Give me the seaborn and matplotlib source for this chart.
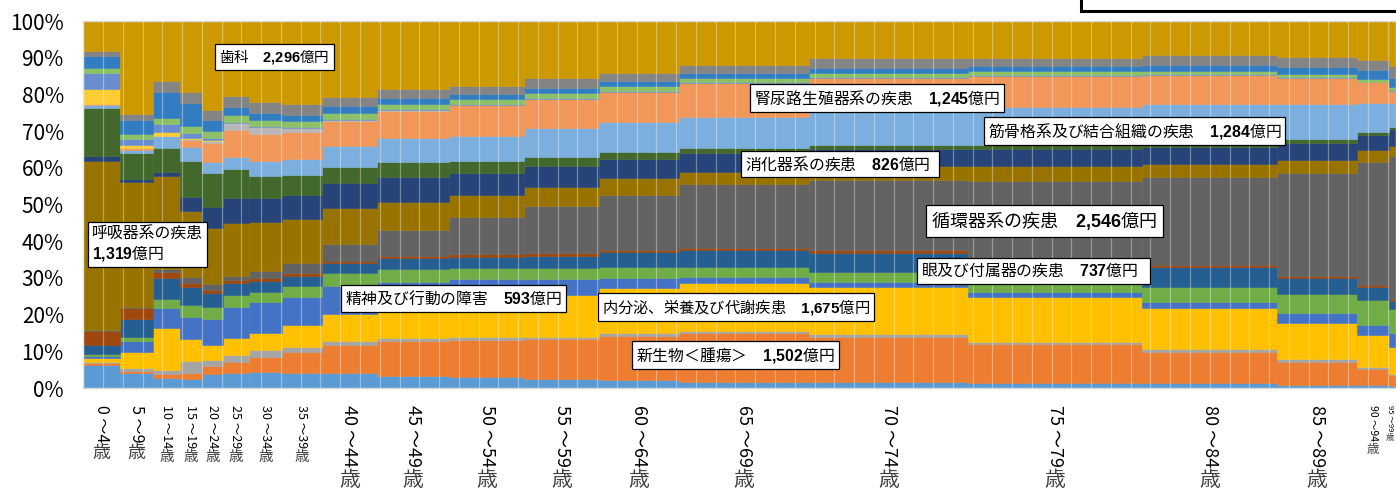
"""
Medical cost by disease chapter and age group (Marimekko style).
Bar width = total cost of the age group (億円), height = share of each chapter.
"""

import matplotlib
matplotlib.use("Agg")
import matplotlib.pyplot as plt
import matplotlib.transforms as mtransforms
from matplotlib.patches import Rectangle
from matplotlib.ticker import MultipleLocator
import numpy as np
import seaborn as sns

# ── Data ──────────────────────────────────────────────────────────────────────

AGE_LABELS = ["0 ～4", "5 ～9", "10 ～14", "15 ～19", "20 ～24", "25 ～29",
              "30 ～34", "35 ～39", "40 ～44", "45 ～49", "50 ～54", "55 ～59",
              "60 ～64", "65 ～69", "70 ～74", "75 ～79", "80 ～84", "85 ～89",
              "90 ～94", "95 ～99"]

# total cost per age group (億円) -> bar widths
COST_OKU = [464, 417, 342, 278, 266, 329, 417, 506, 696, 911,
            949, 949, 1012, 1645, 2011, 2201, 1708, 1012, 405, 170]

# share of each disease chapter within an age group (%), bottom -> top
INFECT    = [6.3, 4.0, 2.8, 2.5, 3.7, 4.0, 4.3, 4.0, 4.0, 3.4, 2.9, 2.5, 2.2, 1.7, 1.7, 1.4, 1.4, 0.8, 0.8, 0.5]
NEOPLASM  = [0.6, 0.6, 0.9, 1.5, 2.4, 3.2, 4.1, 5.7, 7.7, 9.4, 10.2, 10.8, 12.1, 13.2, 12.3, 10.7, 8.5, 6.4, 4.5, 3.0]
BLOOD     = [0.2, 0.9, 1.2, 3.4, 1.5, 1.8, 2.0, 1.6, 1.2, 0.9, 0.9, 0.7, 0.6, 0.6, 0.6, 0.5, 0.6, 0.6, 0.5, 0.3]
ENDOCRINE = [1.2, 4.2, 11.4, 6.0, 4.1, 4.5, 4.5, 5.9, 7.2, 9.7, 11.5, 11.3, 12.4, 13.0, 12.8, 12.1, 11.2, 10.0, 8.6, 7.3]
MENTAL    = [0.5, 3.1, 5.6, 5.9, 7.0, 8.7, 8.4, 7.7, 7.8, 5.6, 4.1, 4.3, 2.6, 1.8, 1.6, 1.5, 1.8, 2.6, 2.8, 3.8]
NERVE     = [0.6, 1.2, 2.4, 3.3, 3.5, 3.1, 2.9, 3.0, 3.3, 3.4, 3.0, 3.0, 3.0, 2.6, 2.5, 2.7, 4.1, 5.1, 6.8, 6.7]
EYE       = [2.3, 4.8, 5.6, 5.0, 3.6, 3.2, 3.0, 2.6, 2.8, 2.9, 3.2, 3.5, 4.1, 4.6, 5.4, 6.0, 5.4, 4.4, 3.5, 2.2]
EAR       = [3.9, 3.1, 1.6, 0.9, 0.9, 0.9, 0.9, 0.9, 0.7, 0.7, 0.6, 0.6, 0.6, 0.6, 0.6, 0.7, 0.5, 0.6, 0.6, 0.5]
CIRC      = [0.2, 0.2, 0.9, 1.7, 1.6, 1.2, 1.7, 2.6, 4.5, 7.1, 10.3, 13.0, 15.0, 17.4, 19.3, 20.8, 23.9, 28.2, 33.6, 38.8]
RESP      = [46.1, 34.1, 25.4, 18.1, 15.4, 14.3, 13.4, 12.0, 9.8, 7.6, 5.9, 5.2, 4.5, 3.4, 3.6, 4.1, 3.6, 3.4, 3.2, 2.9]
DIGEST    = [1.4, 0.7, 1.1, 3.7, 5.5, 7.0, 6.6, 6.6, 6.8, 6.8, 6.1, 5.7, 5.2, 5.2, 4.6, 4.5, 4.6, 4.6, 4.0, 4.6]
SKIN      = [13.0, 7.0, 6.6, 9.9, 9.5, 7.8, 6.1, 5.4, 4.5, 4.1, 3.2, 2.4, 2.1, 1.4, 1.3, 1.1, 1.1, 1.1, 0.9, 0.6]
MUSCULO   = [0.7, 1.0, 3.2, 3.7, 2.8, 3.3, 3.9, 4.4, 5.6, 6.4, 6.8, 7.8, 8.0, 8.4, 9.1, 10.6, 10.7, 9.6, 7.9, 6.5]
GENITO    = [0.4, 0.5, 0.0, 2.0, 5.2, 7.3, 7.5, 7.3, 6.9, 7.6, 8.4, 7.9, 8.3, 9.1, 9.1, 8.3, 7.8, 7.0, 5.6, 3.3]
PREG      = [0.0, 0.0, 0.0, 0.2, 0.7, 1.8, 1.8, 1.1, 0.3, 0.1, 0.1, 0.0, 0.0, 0.0, 0.0, 0.0, 0.0, 0.0, 0.0, 0.0]
PERINATAL = [4.1, 0.7, 1.0, 0.2, 0.1, 0.1, 0.1, 0.1, 0.0, 0.0, 0.0, 0.0, 0.0, 0.0, 0.0, 0.0, 0.0, 0.0, 0.0, 0.0]
CONGEN    = [4.2, 1.8, 2.2, 1.6, 0.7, 0.3, 0.3, 0.2, 0.2, 0.2, 0.2, 0.2, 0.3, 0.3, 0.2, 0.3, 0.4, 0.3, 0.1, 0.1]
SYMPTOM   = [1.6, 1.4, 1.6, 1.8, 1.8, 2.0, 1.5, 1.6, 1.7, 1.6, 1.3, 1.4, 1.4, 1.2, 1.2, 1.1, 0.9, 0.9, 0.9, 1.0]
INJURY    = [3.2, 3.8, 7.2, 6.3, 3.0, 2.0, 1.9, 1.8, 1.8, 1.5, 1.4, 1.4, 1.3, 1.2, 1.2, 1.3, 1.5, 1.9, 2.3, 2.5]
OTHER     = [1.4, 1.6, 3.0, 3.0, 2.8, 3.0, 3.1, 2.9, 2.4, 2.6, 2.3, 2.7, 2.2, 2.4, 2.7, 2.2, 2.7, 2.8, 2.9, 3.1]
DENTAL    = [8.1, 25.3, 16.3, 19.3, 24.2, 20.5, 22.0, 22.6, 20.8, 18.4, 17.6, 15.6, 14.1, 11.9, 10.2, 10.1, 9.3, 9.7, 10.5, 12.3]

CATEGORIES = ["感染症及び寄生虫症", "新生物＜腫瘍＞", "血液及び造血器の疾患", "内分泌、栄養及び代謝疾患",
              "精神及び行動の障害", "神経系の疾患", "眼及び付属器の疾患", "耳及び乳様突起の疾患",
              "循環器系の疾患", "呼吸器系の疾患", "消化器系の疾患", "皮膚及び皮下組織の疾患",
              "筋骨格系及び結合組織の疾患", "腎尿路生殖器系の疾患", "妊娠、分娩及び産じょく",
              "周産期に発生した病態", "先天奇形、変形及び染色体異常", "症状、徴候及び異常臨床所見",
              "損傷、中毒及びその他の外因の影響", "その他", "歯科"]
SERIES = [INFECT, NEOPLASM, BLOOD, ENDOCRINE, MENTAL, NERVE, EYE, EAR, CIRC, RESP,
          DIGEST, SKIN, MUSCULO, GENITO, PREG, PERINATAL, CONGEN, SYMPTOM, INJURY, OTHER, DENTAL]

# callout boxes: name, total amount (億円)
CALLOUT_NAMES = ["歯科", "呼吸器系の疾患", "腎尿路生殖器系の疾患", "筋骨格系及び結合組織の疾患",
                 "消化器系の疾患", "循環器系の疾患", "眼及び付属器の疾患", "精神及び行動の障害",
                 "内分泌、栄養及び代謝疾患", "新生物＜腫瘍＞"]
CALLOUT_AMOUNTS = ["2,296", "1,319", "1,245", "1,284", "826", "2,546", "737", "593", "1,675", "1,502"]

# ── Style / layout ───────────────────────────────────────────────────────────

COLORS = ["#5B9BD5", "#ED7D31", "#A5A5A5", "#FFC000", "#4472C4", "#70AD47",
          "#255E91", "#9E480E", "#636363", "#997300", "#264478", "#43682B",
          "#7CAFDD", "#F1975A", "#B7B7B7", "#FFCD33", "#698ED0", "#8CC168",
          "#327DC2", "#848484", "#CC9900"]

# (x in 億円, y in %, separator, trailing pad, fontsize)
CALLOUT_POS = [(1717, 90.2, "　", " ", 10.5), (110, 39.2, "\n", "", 11.4),
               (8484, 79.0, "　", "", 11.4), (11444, 70.0, "　", "", 11.4),
               (8371, 61.0, "　", "  ", 11.4), (10723, 45.6, "　", " ", 13.0),
               (10597, 31.9, "　", "   ", 11.4), (3311, 24.4, "　", "", 11.4),
               (6562, 22.1, "　", "", 11.0), (6992, 9.1, "　", "", 11.4)]

# font sizes of the age labels (digits, 歳)
NUM_SIZES = [11.5, 11.5, 9, 9, 9, 9, 9, 9] + [13] * 10 + [7.5, 5.5]
AGE_SIZES = [13, 13, 10.5, 10.5, 10.5, 10.5, 10.5, 10.5] + [15] * 10 + [9, 6]

PX_PER_OKU = 1 / 12.65
X_MAX = (1396 - 83.3) / PX_PER_OKU


def main():
    sns.set_theme(style="white")
    plt.rcParams["font.family"] = ["Noto Sans CJK JP", "DejaVu Sans"]
    plt.rcParams["mathtext.fontset"] = "custom"
    plt.rcParams["mathtext.bf"] = "Liberation Sans:bold"

    fig = plt.figure(figsize=(13.96, 4.94), dpi=100)
    ax = fig.add_axes([83.3 / 1396, 106 / 494, 1 - 83.3 / 1396, 367 / 494])

    widths = np.array(COST_OKU, dtype=float)
    lefts = np.concatenate([[0.0], np.cumsum(widths)[:-1]])
    bottom = np.zeros(len(widths))
    for name, vals, col in zip(CATEGORIES, SERIES, COLORS):
        vals = np.array(vals, dtype=float)
        ax.bar(lefts, vals, width=widths, bottom=bottom, align="edge",
               color=col, edgecolor=col, linewidth=0.4, label=name, zorder=2)
        bottom += vals

    ax.set_xlim(0, X_MAX)
    ax.set_ylim(0, 100)

    # faint vertical grid every 250億円, drawn over the bars
    ax.xaxis.set_major_locator(MultipleLocator(250))
    ax.grid(axis="x", color="white", alpha=0.35, linewidth=0.9)
    ax.grid(axis="y", visible=False)
    ax.set_axisbelow(False)
    ax.tick_params(axis="x", labelbottom=False, length=0)

    ax.set_yticks(range(0, 101, 10))
    ax.set_yticklabels([f"{v}%" for v in range(0, 101, 10)], fontsize=15)
    ax.tick_params(axis="y", length=0, pad=14, labelcolor="black")

    for sp in ax.spines.values():
        sp.set_color("#D9D9D9")
        sp.set_linewidth(1.0)

    # age labels: digits rotated, 歳 upright below
    trans = mtransforms.blended_transform_factory(ax.transData, ax.transAxes)
    centers = np.minimum(lefts + widths / 2, X_MAX - 6 / PX_PER_OKU)
    for lab, cx, fs_num, fs_age in zip(AGE_LABELS, centers, NUM_SIZES, AGE_SIZES):
        t = ax.text(cx, -0.045, lab, rotation=-90, ha="center", va="top",
                    transform=trans, fontsize=fs_num, color="black", clip_on=False)
        ax.annotate("歳", xy=(0.5, 0), xycoords=t, xytext=(0, -1.5),
                    textcoords="offset points", ha="center", va="top",
                    fontsize=fs_age, color="#404040", annotation_clip=False)

    # callout boxes
    for name, amt, (x, y, sep, tail, fs) in zip(CALLOUT_NAMES, CALLOUT_AMOUNTS, CALLOUT_POS):
        num = amt.replace(",", "{,}")
        ax.text(x, y, f"{name}{sep}$\\mathbf{{{num}}}$億円{tail}", ha="left", va="center",
                fontsize=fs, color="black", zorder=6, linespacing=1.05,
                bbox=dict(boxstyle="square,pad=0.25", fc="white", ec="black", lw=0.9))

    # bottom edge of a box sitting above the chart (cut off in the original)
    fig.add_artist(Rectangle((1081 / 1396, (494 - 11) / 494), 0.3, 0.1,
                             transform=fig.transFigure, fc="white", ec="black",
                             lw=2.2, clip_on=False))

    fig.savefig("out.png", dpi=100)
    plt.close(fig)


if __name__ == "__main__":
    main()
